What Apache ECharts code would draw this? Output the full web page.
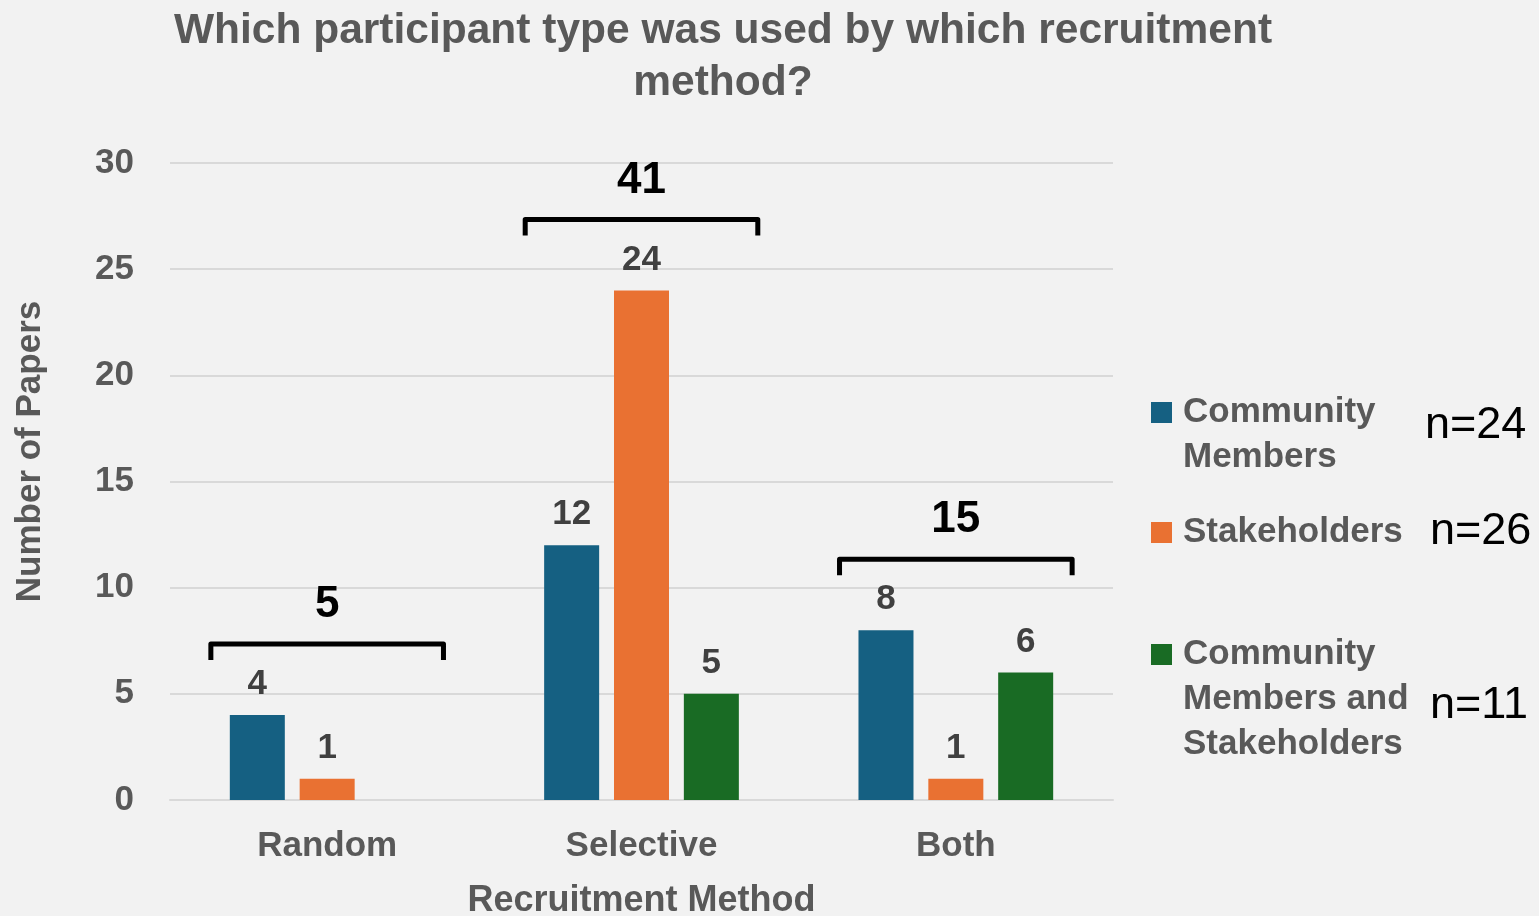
<!DOCTYPE html>
<html>
<head>
<meta charset="utf-8">
<script src="https://cdn.jsdelivr.net/npm/echarts@6/dist/echarts.min.js"></script>
<style>
  html, body { margin: 0; padding: 0; background: #f2f2f2; }
  #chart { width: 1539px; height: 916px; }
</style>
</head>
<body>
<div id="chart"></div>
<script>
const categories = ['Random', 'Selective', 'Both']
const seriesNames = ['Community Members', 'Stakeholders', 'Community Members and Stakeholders']
const communityMembers = [4, 12, 8]
const stakeholders = [1, 24, 1]
const communityAndStakeholders = [null, 5, 6]
const legendLabels = ['Community\nMembers', 'Stakeholders', 'Community\nMembers and\nStakeholders']
const colors = ['#156082', '#e97132', '#196b24']

const FONT = '"Liberation Sans", Arial, sans-serif'
const GREY = '#595959'

const allSeries = [communityMembers, stakeholders, communityAndStakeholders]
// totals per group (shown above brackets) and per series (n=..)
const groupTotals = categories.map((c, i) => allSeries.reduce((s, arr) => s + (arr[i] || 0), 0))
const groupMax = categories.map((c, i) => Math.max(...allSeries.map(arr => arr[i] || 0)))
const seriesTotals = allSeries.map(arr => arr.reduce((s, v) => s + (v || 0), 0))

const chart = echarts.init(document.getElementById('chart'))

const legendTops = [345, 510, 542]
const nLabelPos = [[1425, 426], [1430, 532], [1430, 706]]

// legend icon sits on the first text line: pad the text with blank lines above
const padLabel = txt => {
	const n = txt.split('\n').length
	return '\n'.repeat(n - 1) + txt
}

const barSeries = allSeries.map((arr, i) => ({
	name: seriesNames[i],
	type: 'bar',
	data: arr,
	barWidth: 55,
	barGap: '27%',
	itemStyle: { color: colors[i] },
	label: {
		show: true,
		position: 'top',
		distance: 13,
		fontSize: 35,
		fontWeight: 'bold',
		fontFamily: FONT,
		color: '#404040'
	}
}))

const option = {
	backgroundColor: '#f2f2f2',
	animation: false,
	title: {
		text: 'Which participant type was used by which recruitment\nmethod?',
		left: 723,
		textAlign: 'center',
		top: 5,
		padding: 0,
		textStyle: {
			fontSize: 42.5,
			fontWeight: 'bold',
			fontFamily: FONT,
			color: GREY,
			lineHeight: 52
		}
	},
	grid: { left: 170, right: 426, top: 163, bottom: 116, outerBoundsMode: 'none' },
	legend: seriesNames.map((name, i) => ({
		data: [name],
		orient: 'vertical',
		left: 1151,
		top: legendTops[i],
		padding: 0,
		itemWidth: 21,
		itemHeight: 21,
		icon: 'rect',
		formatter: () => padLabel(legendLabels[i]),
		textStyle: {
			fontSize: 35,
			fontWeight: 'bold',
			fontFamily: FONT,
			color: GREY,
			lineHeight: 45,
			padding: [0, 0, 0, 6]
		}
	})),
	xAxis: {
		type: 'category',
		data: categories,
		name: 'Recruitment Method',
		nameLocation: 'middle',
		nameGap: 83,
		nameTextStyle: { fontSize: 36, fontWeight: 'bold', fontFamily: FONT, color: GREY },
		axisLine: { lineStyle: { color: '#d9d9d9', width: 2 } },
		axisTick: { show: false },
		axisLabel: { margin: 29, fontSize: 35, fontWeight: 'bold', fontFamily: FONT, color: GREY }
	},
	yAxis: {
		type: 'value',
		min: 0,
		max: 30,
		interval: 5,
		name: 'Number of Papers',
		nameLocation: 'middle',
		nameGap: 122,
		nameTextStyle: { fontSize: 35, fontWeight: 'bold', fontFamily: FONT, color: GREY, padding: [0, 0, 0, 60] },
		axisLine: { show: false },
		axisTick: { show: false },
		splitLine: { lineStyle: { color: '#d9d9d9', width: 2 } },
		axisLabel: { margin: 36, fontSize: 35, fontWeight: 'bold', fontFamily: FONT, color: GREY }
	},
	graphic: seriesTotals.map((t, i) => ({
		type: 'text',
		x: nLabelPos[i][0],
		y: nLabelPos[i][1],
		style: {
			text: 'n=' + t,
			verticalAlign: 'middle',
			fontSize: 45,
			fontFamily: FONT,
			fill: '#000'
		}
	})),
	series: [
		...barSeries,
		{
			// brackets with group totals
			name: 'totals',
			type: 'custom',
			silent: true,
			z: 5,
			data: categories.map((c, i) => [i, groupMax[i], groupTotals[i]]),
			encode: { x: 0, y: 1 },
			renderItem: (params, api) => {
				const p = api.coord([api.value(0), api.value(1)])
				const w = api.size([1, 0])[0] * 0.74
				const y = p[1] - 71
				const hook = 16
				return {
					type: 'group',
					children: [
						{
							type: 'polyline',
							shape: { points: [[p[0] - w / 2, y + hook], [p[0] - w / 2, y], [p[0] + w / 2, y], [p[0] + w / 2, y + hook]] },
							style: { stroke: '#000', lineWidth: 5, fill: null, lineJoin: 'round' }
						},
						{
							type: 'text',
							style: {
								text: String(api.value(2)),
								x: p[0],
								y: y - 39,
								align: 'center',
								verticalAlign: 'middle',
								fontSize: 44,
								fontWeight: 'bold',
								fontFamily: FONT,
								fill: '#000'
							}
						}
					]
				}
			}
		}
	]
}

chart.setOption(option)
</script>
</body>
</html>
